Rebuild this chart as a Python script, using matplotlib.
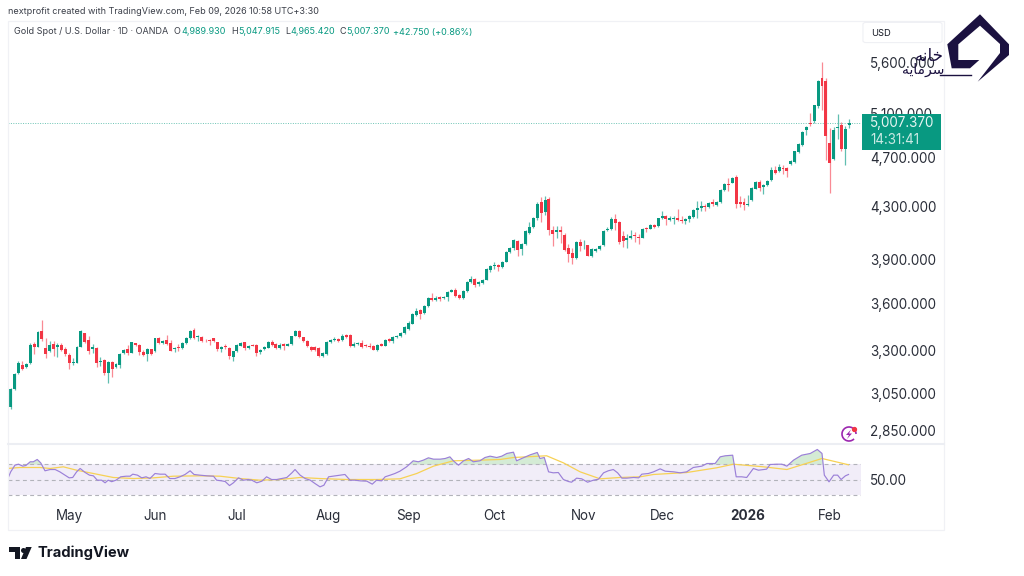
import numpy as np
import matplotlib
matplotlib.use("Agg")
import matplotlib.pyplot as plt
from matplotlib.patches import Polygon, Rectangle, FancyBboxPatch, Arc
from matplotlib.ticker import NullLocator

plt.rcParams['font.family'] = ['Inter', 'DejaVu Sans']

# Daily candles
opens = [2975,3074,3170,3214,3204,3224,3341,3325,3419,3316,3296,3341,3320,3335,3310,3276,3224,3228,3325,3409,3366,3308,3316,3230,3244,3170,3234,3206,3216,3284,3310,3288,3345,3337,3294,3280,3308,3296,3376,3345,3366,3347,3310,3320,3314,3347,3376,3429,3384,3386,3368,3366,3376,3351,3310,3326,3316,3264,3296,3331,3351,3316,3335,3335,3290,3308,3318,3355,3339,3316,3341,3331,3341,3392,3423,3382,3361,3320,3320,3316,3270,3280,3355,3366,3372,
    3364,3395,3395,3329,3340,3348,3336,3330,3326,3306,3340,3330,3370,3360,3383,3391,3410,3436,3468,3524,3554,3537,3583,3633,3622,3642,3633,3639,3678,3689,3653,3633,3682,3744,3762,3726,3737,3760,3826,3855,3860,3846,3885,3952,3980,4032,3975,4012,4097,4138,4205,4331,4258,4360,4114,4100,4120,4080,3986,3948,3910,4025,3995,4003,3928,3965,3975,4003,4114,4122,4198,4176,4073,4040,4055,
    4083,4065,4060,4133,4128,4158,4148,4212,4223,4192,4202,4205,4192,4182,4202,4217,4273,4288,4301,4293,4333,4306,4330,4432,4481,4490,4535,4333,4333,4313,4350,4442,4495,4457,4467,4511,4591,4588,4616,4613,4645,4662,4752,4812,
    4940,5006,5027,5163,5435,5408,4825,4690,4964,4988,4772,4989.93]
highs = [3083,3170,3236,3236,3224,3345,3351,3423,3490,3378,3358,3362,3345,3345,3320,3286,3256,3330,3428,3412,3392,3341,3320,3260,3250,3236,3238,3226,3288,3312,3337,3356,3349,3341,3304,3316,3312,3380,3386,3366,3396,3366,3322,3341,3351,3382,3428,3440,3396,3390,3372,3370,3380,3356,3330,3341,3320,3300,3340,3356,3356,3336,3340,3340,3310,3326,3358,3366,3345,3345,3345,3350,3392,3428,3428,3386,3366,3326,3326,3320,3290,3358,3374,3382,3378,
    3400,3400,3400,3352,3354,3368,3344,3345,3335,3344,3345,3370,3376,3390,3397,3418,3452,3482,3534,3568,3564,3589,3640,3665,3647,3648,3645,3684,3696,3705,3660,3686,3750,3785,3770,3752,3764,3838,3862,3885,3870,3890,3962,3988,4050,4040,4020,4118,4175,4215,4330,4374,4382,4375,4150,4150,4145,4095,4016,3985,4032,4050,4045,4008,3980,3985,4005,4118,4140,4215,4240,4185,4110,4090,4115,
    4105,4090,4130,4140,4164,4165,4212,4265,4230,4225,4225,4275,4220,4210,4230,4277,4340,4340,4320,4335,4360,4345,4440,4490,4525,4540,4550,4385,4365,4390,4452,4500,4510,4478,4512,4620,4625,4645,4640,4620,4680,4762,4828,4938,
    4985,5103,5180,5415,5596,5435,4960,4975,5090,5015,4985,5047.915]
lows = [2964,3070,3165,3184,3200,3220,3280,3320,3361,3256,3292,3270,3260,3300,3270,3194,3216,3224,3320,3350,3280,3284,3206,3210,3156,3110,3144,3198,3196,3280,3276,3284,3330,3276,3270,3240,3272,3290,3340,3340,3335,3296,3290,3296,3310,3342,3372,3374,3358,3356,3356,3335,3356,3296,3290,3312,3250,3236,3292,3326,3306,3310,3326,3270,3280,3304,3314,3330,3310,3312,3304,3326,3336,3388,3378,3356,3320,3298,3296,3262,3264,3276,3350,3360,3354,
    3358,3380,3325,3320,3334,3318,3322,3318,3302,3300,3326,3326,3352,3350,3378,3386,3405,3430,3464,3514,3495,3532,3576,3612,3615,3612,3625,3618,3672,3642,3625,3628,3676,3738,3712,3716,3730,3756,3810,3835,3820,3838,3880,3945,3972,3925,3935,4008,4085,4132,4190,4180,4230,4082,3995,4055,4020,3958,3880,3870,3905,3960,3975,3924,3920,3955,3970,3998,4108,4115,4120,4015,3990,3985,4050,
    4030,4016,4055,4100,4122,4135,4143,4200,4155,4185,4165,4185,4170,4165,4180,4212,4210,4260,4260,4285,4300,4300,4325,4425,4420,4485,4290,4295,4270,4305,4340,4437,4425,4400,4460,4505,4560,4580,4565,4540,4640,4655,4740,4800,
    4900,4985,5006,5148,5130,4680,4403,4680,4865,4760,4640,4965.42]
closes = [3077,3164,3228,3194,3220,3335,3320,3417,3372,3280,3337,3310,3335,3304,3280,3226,3234,3325,3423,3355,3296,3320,3226,3240,3166,3230,3194,3220,3280,3306,3286,3351,3335,3290,3276,3310,3280,3376,3345,3361,3341,3300,3316,3314,3347,3378,3423,3378,3388,3361,3364,3361,3361,3310,3322,3320,3266,3296,3335,3349,3314,3331,3331,3286,3304,3320,3351,3335,3314,3337,3331,3343,3388,3423,3382,3361,3327,3304,3304,3266,3284,3353,3366,3374,3359,
    3391,3385,3329,3344,3348,3324,3328,3324,3306,3338,3330,3366,3360,3385,3391,3412,3445,3475,3528,3552,3532,3581,3633,3622,3637,3630,3639,3677,3689,3651,3633,3680,3742,3762,3724,3746,3757,3830,3855,3862,3848,3882,3955,3980,4040,3970,4015,4110,4140,4207,4320,4250,4350,4114,4085,4114,4100,3966,3941,3912,4025,4000,4000,3928,3975,3975,4000,4112,4128,4198,4172,4030,4036,4060,4073,
    4070,4055,4125,4125,4158,4140,4207,4223,4197,4205,4207,4192,4182,4202,4223,4270,4288,4298,4291,4325,4320,4333,4432,4478,4470,4526,4320,4320,4311,4320,4444,4492,4444,4470,4506,4591,4573,4622,4600,4590,4668,4755,4820,4930,
    4976,4997,5172,5408,5359,4893,4658,4940,4970,4775,4955,5007.37]

# RSI pane: bar position and value
rsi_pos = [-0.9,0,1.1,2,3.1,3.9,5,5.8,6.8,7.7,8.8,10.1,11.4,12.6,13.9,15,15.9,16.9,17.8,19.1,20.2,21.2,22.2,23.3,24.2,25,25.9,27,28.2,29.6,30.6,31.3,32.5,33.6,34.7,35.7,37,38.3,39.6,40.8,42.1,43.4,44.7,46,47,48.5,50.3,52,52.8,54.1,55,56.1,57.1,58.4,59.7,60.9,61.8,63.1,64.4,65.6,66.9,68.2,69.5,70.8,72.1,72.9,74.2,75.5,76.8,78,79.3,80.3,81.5,83.2,84.4,85.7,87,88.3,89.6,91.3,92.7,93.8,95.1,96,97.3,98.5,99.8,101.5,103.2,104.5,105.8,107.1,108.4,110.1,111.4,112.6,113.5,114.8,116.1,117.4,118.6,120.3,
    121.6,122.9,124.6,125.9,127.2,128.9,129.7,131,133.2,135,135.7,136.8,137.9,139.1,140.4,141.7,143,143.8,145.1,146.4,147.9,149.4,150.7,152,153.2,154.5,155.6,156.7,158,159.7,161,161.8,163.5,164.8,166.5,167.8,170,171.6,173.3,175,177.2,178.5,180.6,181.9,183.2,185.1,186,187.4,188.7,190.4,191.7,193.8,194.7,196.4,197.7,199,200.7,202.8,205,206.8,208,208.6,209.8,211,212,212.9,214,214.8]
rsi_val = [49.1,60.2,69.1,70.4,67.8,68.7,73.6,73.6,76.7,72.2,61.6,63.3,63.3,60.2,55.8,52.2,52.7,60.2,64.7,59.3,55.8,54.9,49.1,49.1,45.6,49.1,47.1,49.1,53.6,54.4,54.4,57.1,55.8,52.2,53.6,51.3,58,57.1,57.1,51.3,51.3,53.6,56.7,61.6,56.7,55.8,54.9,54.4,49.1,48.2,47.3,41.9,45.6,52.2,49.1,50,49.1,45.6,47.8,53.6,50,50,51.3,52.7,58.9,63.3,55.8,51.3,49.1,44.7,40.2,42.4,53.6,54.9,55.8,56.7,49.1,49.1,48.2,47.8,43.8,49.1,48.2,53.6,55.8,58,61.1,66.9,74.9,73.6,75.8,78.9,77.1,77.1,78,80.2,74.9,69.1,74.9,78,73.6,74.9,
    79.3,81.1,79.3,81.1,84.7,86.4,74.9,78,82.9,86,78,79.3,60.2,58.9,59.3,50,47.3,46.4,51.8,50.9,46.4,49.1,50.4,58.9,61.6,63.3,58.9,51.8,51.8,52.7,52.2,57.1,58,60.2,64.2,61.1,60.2,58.9,60.2,66,67.8,71.3,71.3,80.2,81.6,82.4,53.6,53.6,52.7,64.7,62.4,63.8,70,70.4,70.4,67.8,75.8,82.4,84.7,90,84.7,55.8,46.9,55.8,55.8,50,54.9,56.7]
ma_pos = [-0.9,2.4,7.5,10.1,13.5,16.9,21.2,26.3,31.5,36.6,41.7,48.5,53.7,58.8,63.9,69.1,74.2,79.3,86.2,93.8,99.8,104.1,108.4,113.5,120.3,125.5,128.9,137.4,141.7,146,151.1,156.2,161.4,164.8,173.3,181,185.3,193,199,208,214.8]
ma_val = [64.7,66,66,64.7,66.9,62.4,58,52.7,51.3,52.2,54.4,54.9,54.4,51.3,49.1,50,52.7,51.3,50,50,50.9,58,67.8,74.9,75.8,76.7,79.3,81.6,72.2,60.2,50.9,52.7,53.6,56.7,59.3,65.6,70.4,66.9,63.3,78,69.6]

price_ticks = [5600, 5100, 4700, 4300, 3900, 3600, 3300, 3050, 2850]
month_pos = [15, 37, 58, 81.5, 102, 124, 147, 167, 189, 210]
month_labels = ['May', 'Jun', 'Jul', 'Aug', 'Sep', 'Oct', 'Nov', 'Dec', '2026', 'Feb']

GREEN = '#089981'
RED = '#f23645'
INK = '#131722'
W, H = 1024, 576


def fx(x):
    return x / W


def fy(y):
    return 1 - y / H


def pts(p):
    return [(fx(a), fy(b)) for a, b in p]


def label(x, y, s, **kw):
    kw.setdefault('fontsize', 6.5)
    kw.setdefault('color', INK)
    kw.setdefault('va', 'center')
    kw.setdefault('zorder', 7)
    fig.text(fx(x), fy(y), s, **kw)


fig = plt.figure(figsize=(W / 100, H / 100), dpi=100, facecolor='white')
ax = fig.add_axes([fx(8), fy(443), (861 - 8) / W, (443 - 21) / H])
ax2 = fig.add_axes([fx(8), fy(500), (861 - 8) / W, (500 - 444) / H])

o = np.array(opens)
h = np.array(highs)
l = np.array(lows)
c = np.array(closes)
idx = np.arange(len(o))
cols = [GREEN if b >= a else RED for a, b in zip(o, c)]
wick = [('#60bfb0' if b >= a else '#f98a94') for a, b in zip(o, c)]

# Candles
ax.vlines(idx, l, h, colors=wick, linewidth=0.9, zorder=2)
ax.bar(idx, np.abs(c - o), bottom=np.minimum(o, c), width=0.76, color=cols, linewidth=0, zorder=3)
ax.axhline(closes[-1], color='#6cc4b4', linewidth=0.7, linestyle=(0, (1, 1.5)), zorder=1)

ax.set_yscale('log')
ax.set_ylim(2787, 6037)
ax.set_xlim(-0.69, 218)
ax.yaxis.set_minor_locator(NullLocator())
ax.yaxis.tick_right()
ax.set_yticks(price_ticks)
ax.set_yticklabels([f'{v:,.3f}' for v in price_ticks], fontsize=9.7, color='#2a2e39')
ax.tick_params(axis='y', length=0, pad=6.5, which='both')
ax.set_xticks([])
for s in ax.spines.values():
    s.set_visible(False)

# RSI pane
ax2.axhspan(30, 70, color='#7e57c2', alpha=0.1, linewidth=0)
for lvl in (70, 50, 30):
    ax2.axhline(lvl, color='#b2b3ba', linewidth=0.8, linestyle=(0, (3.5, 3)))
rp = np.array(rsi_pos)
rv = np.array(rsi_val)
ax2.fill_between(rp, 70, rv, where=rv > 70, interpolate=True, color='#4caf50', alpha=0.24, linewidth=0)
ax2.plot(ma_pos, ma_val, color='#f7d154', linewidth=0.9)
ax2.plot(rsi_pos, rsi_val, color='#9b80d8', linewidth=0.85)
ax2.set_xlim(-0.69, 218)
ax2.set_ylim(22.7, 97.3)
ax2.yaxis.tick_right()
ax2.set_yticks([50])
ax2.set_yticklabels(['50.00'], fontsize=9.7, color='#2a2e39')
ax2.tick_params(axis='y', length=0, pad=6.5)
ax2.set_xticks(month_pos)
ax2.set_xticklabels(month_labels, fontsize=9.7, color='#2a2e39')
ax2.tick_params(axis='x', length=0, pad=6.5)
ax2.get_xticklabels()[8].set_fontweight('bold')
for s in ax2.spines.values():
    s.set_visible(False)

# Frame and pane separator
fig.add_artist(Rectangle((fx(8), fy(530)), (944 - 8) / W, (530 - 21) / H, transform=fig.transFigure,
                         fill=False, edgecolor='#f0f1f5', linewidth=0.9, zorder=1))
fig.add_artist(plt.Line2D([fx(8), fx(944)], [fy(443.5), fy(443.5)], color='#eceef3', linewidth=1.5, zorder=1))

# Header
label(8, 12, 'nextprofit created with TradingView.com, Feb 09, 2026 10:58 UTC+3:30', color='#3a3e48')
label(14, 32, 'Gold Spot / U.S. Dollar · 1D · OANDA', color='#3a3e48')
for x, s in [(174, 'O'), (231, 'H'), (285, 'L'), (339, 'C')]:
    label(x, 32, s, color='#3a3e48')
for x, s in [(181, '4,989.930'), (238, '5,047.915'), (290, '4,965.420'), (346, '5,007.370'), (393, '+42.750 (+0.86%)')]:
    label(x, 32, s, color=GREEN)

# Currency button
fig.add_artist(FancyBboxPatch((fx(864), fy(42)), 77 / W, 19 / H, boxstyle='round,pad=0.001,rounding_size=0.003',
                              transform=fig.transFigure, facecolor='white', edgecolor='#eff0f4', linewidth=0.8, zorder=4))
label(871, 33, 'USD', fontsize=6.7, zorder=5)

# Last price tag
fig.add_artist(Rectangle((fx(861.5), fy(149.5)), 79 / W, 35.5 / H, transform=fig.transFigure,
                         facecolor=GREEN, edgecolor='none', zorder=5))
label(870, 123, f'{closes[-1]:,.3f}', fontsize=9.7, color='#e6f5f2')
label(870, 140, '14:31:41', fontsize=9.7, color='#c9e9e3')

# Watermark
fig.add_artist(Polygon(pts([(980, 14.3), (1009, 44.3), (1009, 55), (977.7, 81.7), (1000, 53), (1000, 44), (980, 25.7),
                            (958.3, 44.3), (958.3, 60), (979.3, 60), (970, 68.3), (951.7, 68.3), (947.3, 44.3)]),
                       closed=True, transform=fig.transFigure, facecolor='#1b1140', edgecolor='none', zorder=8))
label(944, 56, '\ufeea\ufee7\ufe8e\ufea7', family='DejaVu Sans', fontsize=12, color='#1b1140', ha='right', zorder=8)
label(944, 70, '\ufeea\ufef3\ufe8e\ufee3\ufeae\ufeb3', family='DejaVu Sans', fontsize=10, color='#1b1140', ha='right', zorder=8)
fig.add_artist(plt.Line2D([fx(940), fx(971)], [fy(74.5), fy(74.5)], color='#1b1140', linewidth=1, zorder=8))

# Alert icon
fig.add_artist(Arc((fx(849), fy(434)), 14 / W, 14 / H, theta1=0, theta2=300, transform=fig.transFigure,
                   color='#9c27b0', linewidth=1.2, zorder=6))
fig.add_artist(Polygon(pts([(851, 429.5), (846, 435), (849, 435), (847, 439), (852, 433.5), (849, 433.5)]),
                       closed=True, transform=fig.transFigure, facecolor='#9c27b0', edgecolor='none', zorder=6))
fig.add_artist(plt.Line2D([fx(854)], [fy(428.5)], marker='o', markersize=2.8, color='#f23645', zorder=7))

# TradingView mark
fig.add_artist(Polygon(pts([(9, 547), (20, 547), (20, 559), (15, 559), (15, 552), (9, 552)]), closed=True,
                       transform=fig.transFigure, facecolor=INK, edgecolor='none', zorder=6))
fig.add_artist(Polygon(pts([(31.7, 547), (26.5, 559), (21, 559), (26, 547)]), closed=True,
                       transform=fig.transFigure, facecolor=INK, edgecolor='none', zorder=6))
fig.add_artist(plt.Line2D([fx(23.3)], [fy(549.5)], marker='o', markersize=3.6, color=INK, markeredgewidth=0, zorder=6))
label(38, 553, 'TradingView', fontsize=10.6, fontweight='bold')

fig.savefig('out.png', dpi=100)
